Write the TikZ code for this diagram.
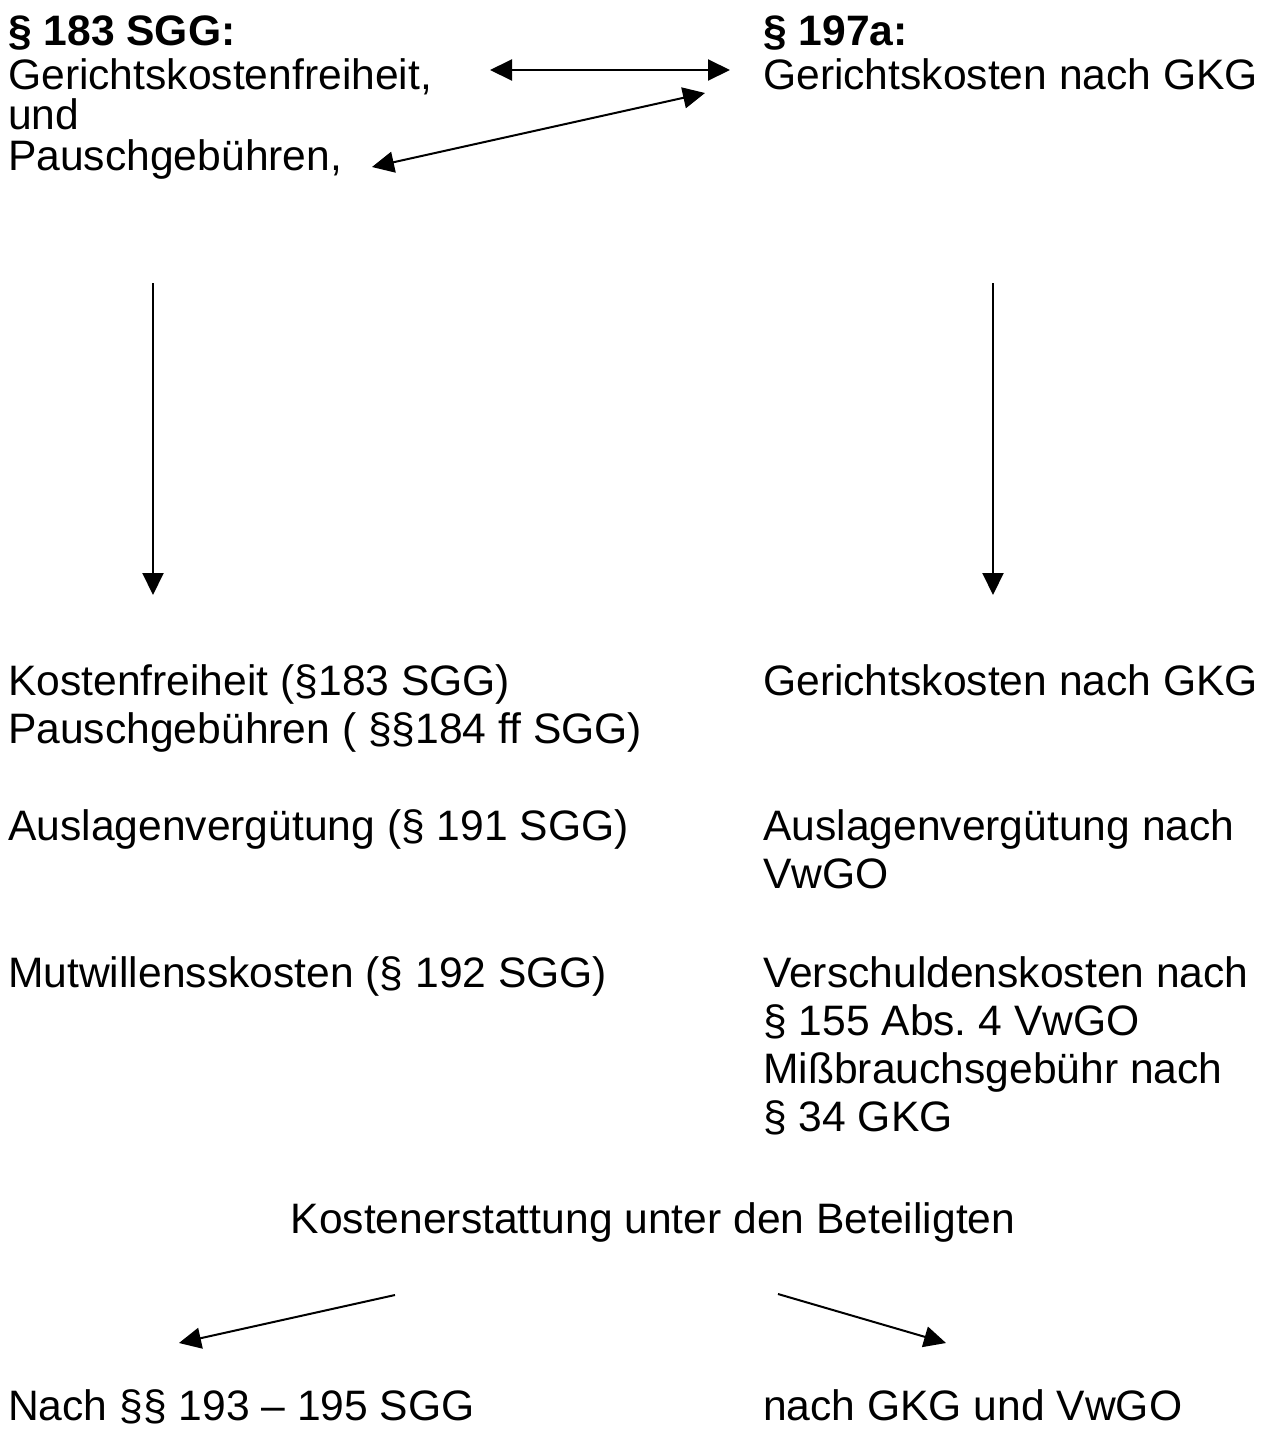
\documentclass[tikz,border=0pt]{standalone}
\usepackage{fontspec}
\setmainfont{Liberation Sans}
\usetikzlibrary{arrows.meta}
\begin{document}
\frenchspacing
\begin{tikzpicture}[x=1pt,y=-1pt,
  txt/.style={inner sep=0pt, anchor=base west, font=\fontsize{42.6}{48}\selectfont},
  ctxt/.style={txt, anchor=base},
  tip/.style={},
  arr/.style={line width=2pt, -{Triangle[length=22pt,width=21pt]}},
  darr/.style={line width=2pt, {Triangle[length=22pt,width=21pt]}-{Triangle[length=22pt,width=21pt]}}]
\useasboundingbox (0,0) rectangle (1273,1433);
% top left block
\node[txt] (l1) at (8,45) {\textbf{§ 183 SGG:}};
\node[txt] (l2) at (8,89) {Gerichtskostenfreiheit,};
\node[txt] (l3) at (8,129) {und};
\node[txt] (l4) at (8,170) {Pauschgebühren,};
% top right block
\node[txt] (r1) at (763,45) {\textbf{§ 197a:}};
\node[txt] (r2) at (763,89) {Gerichtskosten nach GKG};
% top arrows
\coordinate (h1) at (490,70);
\coordinate (h2) at (730,70);
\draw[darr] (h1) -- (h2);
\coordinate (d1) at (372,167);
\coordinate (d2) at (705,93);
\draw[darr] (d1) -- (d2);
% vertical arrows
\coordinate (vl1) at (153,283);
\coordinate (vl2) at (153,595);
\draw[arr] (vl1) -- (vl2);
\coordinate (vr1) at (993,283);
\coordinate (vr2) at (993,595);
\draw[arr] (vr1) -- (vr2);
% left column
\node[txt] (a1) at (8,695) {Kostenfreiheit (§183 SGG)};
\node[txt] (a2) at (8,743) {Pauschgebühren ( §§184 ff SGG)};
\node[txt] (a3) at (8,840) {Auslagenvergütung (§ 191 SGG)};
\node[txt] (a4) at (8,987) {Mutwillensskosten (§ 192 SGG)};
% right column
\node[txt] (b1) at (763,695) {Gerichtskosten nach GKG};
\node[txt] (b2) at (763,840) {Auslagenvergütung nach};
\node[txt] (b3) at (763,888) {VwGO};
\node[txt] (b4) at (763,987) {Verschuldenskosten nach};
\node[txt] (b5) at (763,1035) {§ 155 Abs. 4 VwGO};
\node[txt] (b6) at (763,1083) {Mißbrauchsgebühr nach};
\node[txt] (b7) at (763,1131) {§ 34 GKG};
% Kostenerstattung
\node[ctxt] (k) at (653,1233) {Kostenerstattung unter den Beteiligten};
\coordinate (bl1) at (395,1295);
\coordinate (bl2) at (179,1343);
\draw[arr] (bl1) -- (bl2);
\coordinate (br1) at (778,1294);
\coordinate (br2) at (946,1343);
\draw[arr] (br1) -- (br2);
\node[txt] (n1) at (8,1420) {Nach §§ 193 – 195 SGG};
\node[txt] (n2) at (763,1420) {nach GKG und VwGO};
\end{tikzpicture}
\end{document}
